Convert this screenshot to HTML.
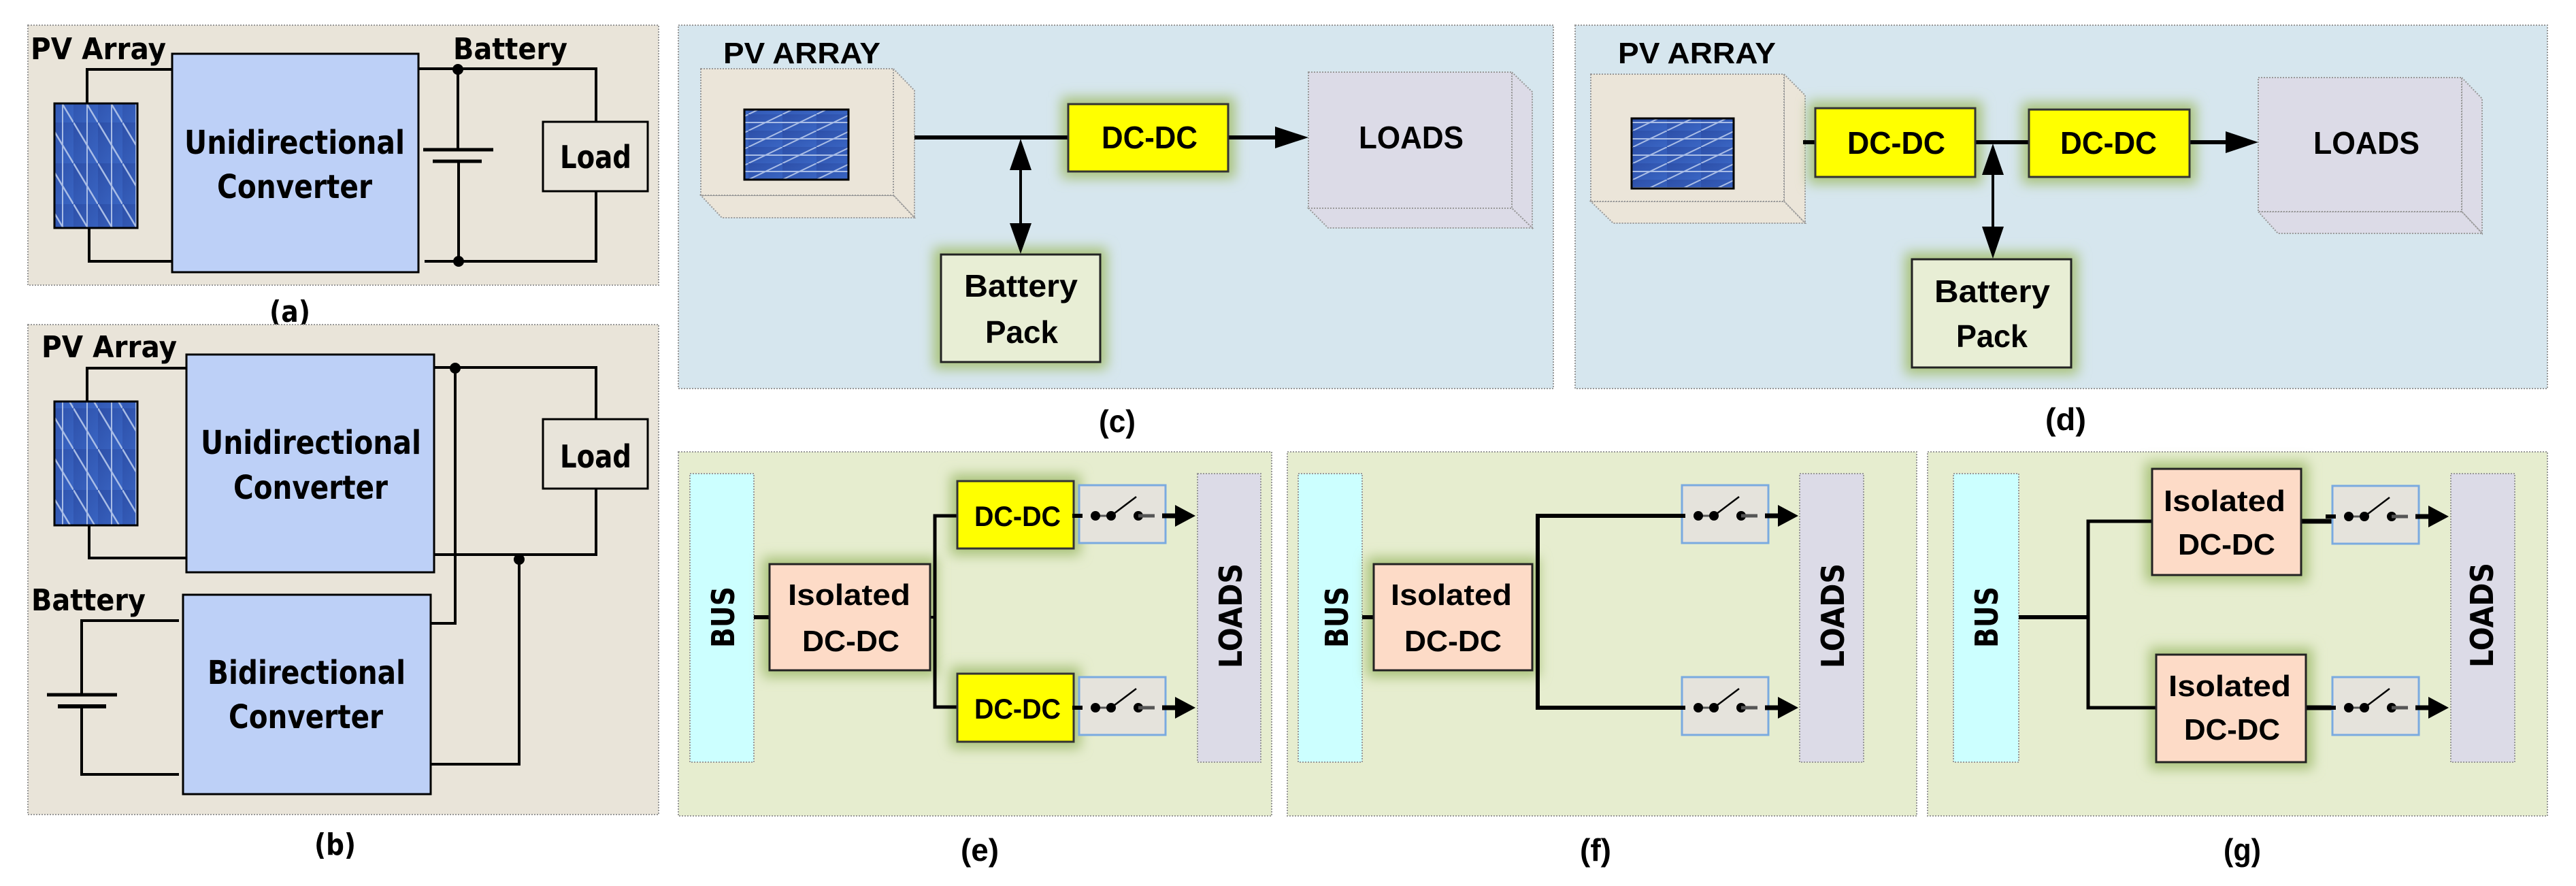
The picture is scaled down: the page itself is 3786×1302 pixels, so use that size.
<!DOCTYPE html>
<html><head><meta charset="utf-8"><style>
html,body{margin:0;padding:0;background:#fff;}
svg{display:block;}
.sb{font-family:"DejaVu Sans","Liberation Sans",sans-serif;font-weight:bold;fill:#000;}
.cn{font-family:"Liberation Sans",sans-serif;font-weight:bold;fill:#000;}
</style></head><body>
<svg width="3786" height="1302" viewBox="0 0 3786 1302" xmlns="http://www.w3.org/2000/svg">
<defs>
<filter id="glow" x="-30%" y="-30%" width="160%" height="160%"><feGaussianBlur stdDeviation="9"/></filter>
<linearGradient id="pvg" x1="0" y1="0" x2="1" y2="1"><stop offset="0" stop-color="#2d4fa8"/><stop offset="1" stop-color="#3a66c4"/></linearGradient>
<pattern id="pvv" width="36" height="60" patternUnits="userSpaceOnUse"><rect width="36" height="60" fill="url(#pvg)"/><line x1="0" y1="0" x2="36" y2="60" stroke="#a9bde6" stroke-width="2.5"/><line x1="20" y1="0" x2="20" y2="60" stroke="#a9bde6" stroke-width="2"/></pattern>
<pattern id="pvh" width="50" height="24" patternUnits="userSpaceOnUse"><rect width="50" height="24" fill="url(#pvg)"/><line x1="0" y1="24" x2="50" y2="0" stroke="#a9bde6" stroke-width="2"/><line x1="0" y1="12" x2="50" y2="12" stroke="#a9bde6" stroke-width="2"/></pattern>
<g id="sw">
<rect x="0" y="-45" width="127" height="85" fill="#e5e3dc" stroke="#7aaae0" stroke-width="3"/>
<line x1="-10" y1="0" x2="5" y2="0" stroke="#000" stroke-width="6"/>
<line x1="24" y1="0" x2="47" y2="0" stroke="#555" stroke-width="3"/>
<circle cx="24" cy="0" r="7"/><circle cx="47" cy="0" r="7"/>
<line x1="47" y1="0" x2="84" y2="-28" stroke="#000" stroke-width="2.5"/>
<circle cx="87" cy="0" r="7"/>
<line x1="87" y1="0" x2="111" y2="0" stroke="#555" stroke-width="5"/>
<line x1="122" y1="0" x2="145" y2="0" stroke="#000" stroke-width="7"/>
<polygon points="141,-16 171,0 141,16" fill="#000"/>
</g>
</defs>

<!-- ===== Panel (a) ===== -->
<rect x="41" y="37" width="927" height="382" fill="#e9e4d9" stroke="#999" stroke-width="2" stroke-dasharray="2 2"/>
<text class="sb" x="45" y="87" font-size="44" textLength="199" lengthAdjust="spacingAndGlyphs">PV Array</text>
<text class="sb" x="666" y="87" font-size="44" textLength="168" lengthAdjust="spacingAndGlyphs">Battery</text>
<g fill="none" stroke="#000" stroke-width="4">
<polyline points="128,152 128,102 253,102"/>
<polyline points="131,335 131,384 253,384"/>
<polyline points="615,101 876,101 876,179"/>
<polyline points="624,384 876,384 876,281"/>
<line x1="673" y1="101" x2="673" y2="220"/>
<line x1="674" y1="237" x2="674" y2="384"/>
<line x1="622" y1="220" x2="725" y2="220" stroke-width="5"/>
<line x1="636" y1="237" x2="708" y2="237" stroke-width="5"/>
</g>
<circle cx="673" cy="102" r="8"/><circle cx="674" cy="384" r="8"/>
<rect x="80" y="152" width="122" height="183" fill="url(#pvv)" stroke="#000" stroke-width="3"/>
<rect x="253" y="79" width="362" height="321" fill="#bdd0f7" stroke="#000" stroke-width="3"/>
<text class="sb" x="271" y="226" font-size="48" textLength="324" lengthAdjust="spacingAndGlyphs">Unidirectional</text>
<text class="sb" x="319" y="291" font-size="48" textLength="228" lengthAdjust="spacingAndGlyphs">Converter</text>
<rect x="798" y="179" width="154" height="102" fill="#e8e4da" stroke="#000" stroke-width="3"/>
<text class="sb" x="823" y="247" font-size="46" textLength="105" lengthAdjust="spacingAndGlyphs">Load</text>
<text class="sb" x="396" y="473" font-size="44" textLength="60" lengthAdjust="spacingAndGlyphs">(a)</text>

<!-- ===== Panel (b) ===== -->
<rect x="41" y="477" width="927" height="720" fill="#e9e4d9" stroke="#999" stroke-width="2" stroke-dasharray="2 2"/>
<text class="sb" x="61" y="525" font-size="44" textLength="199" lengthAdjust="spacingAndGlyphs">PV Array</text>
<text class="sb" x="46" y="897" font-size="44" textLength="168" lengthAdjust="spacingAndGlyphs">Battery</text>
<g fill="none" stroke="#000" stroke-width="4">
<polyline points="128,590 128,541 274,541"/>
<polyline points="131,772 131,820 274,820"/>
<polyline points="638,540 876,540 876,616"/>
<polyline points="669,540 669,916 631,916"/>
<polyline points="876,718 876,815 638,815"/>
<polyline points="763,822 763,1123 628,1123"/>
<polyline points="263,912 120,912 120,1021"/>
<polyline points="120,1038 120,1138 263,1138"/>
<line x1="69" y1="1021" x2="172" y2="1021" stroke-width="5"/>
<line x1="85" y1="1038" x2="156" y2="1038" stroke-width="6"/>
</g>
<circle cx="669" cy="541" r="8"/><circle cx="763" cy="822" r="8"/>
<rect x="80" y="590" width="122" height="182" fill="url(#pvv)" stroke="#000" stroke-width="3"/>
<rect x="274" y="521" width="364" height="320" fill="#bdd0f7" stroke="#000" stroke-width="3"/>
<text class="sb" x="295" y="667" font-size="48" textLength="324" lengthAdjust="spacingAndGlyphs">Unidirectional</text>
<text class="sb" x="343" y="733" font-size="48" textLength="227" lengthAdjust="spacingAndGlyphs">Converter</text>
<rect x="269" y="874" width="364" height="293" fill="#bdd0f7" stroke="#000" stroke-width="3"/>
<text class="sb" x="305" y="1005" font-size="48" textLength="291" lengthAdjust="spacingAndGlyphs">Bidirectional</text>
<text class="sb" x="336" y="1070" font-size="48" textLength="227" lengthAdjust="spacingAndGlyphs">Converter</text>
<rect x="798" y="616" width="154" height="102" fill="#e8e4da" stroke="#000" stroke-width="3"/>
<text class="sb" x="823" y="687" font-size="46" textLength="105" lengthAdjust="spacingAndGlyphs">Load</text>
<text class="sb" x="462" y="1256" font-size="44" textLength="61" lengthAdjust="spacingAndGlyphs">(b)</text>

<!-- ===== Panel (c) ===== -->
<rect x="997" y="37" width="1286" height="534" fill="#d6e6ee" stroke="#999" stroke-width="2" stroke-dasharray="2 2"/>
<text class="cn" x="1063" y="93" font-size="44" textLength="231" lengthAdjust="spacingAndGlyphs">PV ARRAY</text>
<g stroke="#999" stroke-width="2" stroke-dasharray="2 2" fill="#ebe5d9">
<polygon points="1313,101 1344,133 1344,320 1313,287"/>
<polygon points="1030,287 1313,287 1344,320 1061,320"/>
<rect x="1030" y="101" width="283" height="186"/>
</g>
<rect x="1094" y="161" width="153" height="103" fill="url(#pvh)" stroke="#000" stroke-width="3"/>
<g stroke="#999" stroke-width="2" stroke-dasharray="2 2" fill="#dcdbe7">
<polygon points="2222,106 2252,135 2252,335 2222,306"/>
<polygon points="1923,306 2222,306 2252,335 1952,335"/>
<rect x="1923" y="106" width="299" height="200"/>
</g>
<text class="cn" x="1997" y="218" font-size="46" textLength="154" lengthAdjust="spacingAndGlyphs">LOADS</text>
<rect x="1560" y="143" width="255" height="119" fill="#a9c27a" filter="url(#glow)"/>
<rect x="1372" y="364" width="255" height="178" fill="#a9c27a" filter="url(#glow)"/>
<line x1="1344" y1="202" x2="1570" y2="202" stroke="#000" stroke-width="6"/>
<line x1="1805" y1="202" x2="1880" y2="202" stroke="#000" stroke-width="6"/>
<polygon points="1874,186 1923,202 1874,218"/>
<line x1="1500" y1="230" x2="1500" y2="345" stroke="#000" stroke-width="4"/>
<polygon points="1500,204 1484,250 1516,250"/>
<polygon points="1500,373 1484,328 1516,328"/>
<rect x="1570" y="153" width="235" height="99" fill="#ffff00" stroke="#333" stroke-width="3"/>
<text class="cn" x="1619" y="218" font-size="46" textLength="141" lengthAdjust="spacingAndGlyphs">DC-DC</text>
<rect x="1383" y="374" width="234" height="158" fill="#e8eed5" stroke="#222" stroke-width="3"/>
<text class="cn" x="1417" y="436" font-size="46" textLength="167" lengthAdjust="spacingAndGlyphs">Battery</text>
<text class="cn" x="1448" y="504" font-size="46" textLength="107" lengthAdjust="spacingAndGlyphs">Pack</text>
<text class="cn" x="1615" y="635" font-size="46" textLength="54" lengthAdjust="spacingAndGlyphs">(c)</text>

<!-- ===== Panel (d) ===== -->
<rect x="2315" y="37" width="1429" height="534" fill="#d6e6ee" stroke="#999" stroke-width="2" stroke-dasharray="2 2"/>
<text class="cn" x="2378" y="93" font-size="44" textLength="232" lengthAdjust="spacingAndGlyphs">PV ARRAY</text>
<g stroke="#999" stroke-width="2" stroke-dasharray="2 2" fill="#ebe5d9">
<polygon points="2622,109 2653,140 2653,328 2622,296"/>
<polygon points="2338,296 2622,296 2653,328 2371,328"/>
<rect x="2338" y="109" width="284" height="187"/>
</g>
<rect x="2398" y="174" width="150" height="103" fill="url(#pvh)" stroke="#000" stroke-width="3"/>
<g stroke="#999" stroke-width="2" stroke-dasharray="2 2" fill="#dcdbe7">
<polygon points="3618,114 3648,145 3648,343 3618,311"/>
<polygon points="3319,311 3618,311 3648,343 3348,343"/>
<rect x="3319" y="114" width="299" height="197"/>
</g>
<text class="cn" x="3400" y="226" font-size="46" textLength="156" lengthAdjust="spacingAndGlyphs">LOADS</text>
<rect x="2658" y="149" width="255" height="121" fill="#a9c27a" filter="url(#glow)"/>
<rect x="2972" y="151" width="256" height="119" fill="#a9c27a" filter="url(#glow)"/>
<rect x="2800" y="371" width="254" height="179" fill="#a9c27a" filter="url(#glow)"/>
<line x1="2650" y1="209" x2="2668" y2="209" stroke="#000" stroke-width="6"/>
<line x1="2903" y1="209" x2="2982" y2="209" stroke="#000" stroke-width="6"/>
<line x1="3218" y1="209" x2="3280" y2="209" stroke="#000" stroke-width="6"/>
<polygon points="3271,193 3319,209 3271,225"/>
<line x1="2929" y1="235" x2="2929" y2="350" stroke="#000" stroke-width="4"/>
<polygon points="2929,211 2913,257 2945,257"/>
<polygon points="2929,380 2913,333 2945,333"/>
<rect x="2668" y="159" width="235" height="101" fill="#ffff00" stroke="#333" stroke-width="3"/>
<text class="cn" x="2715" y="226" font-size="46" textLength="144" lengthAdjust="spacingAndGlyphs">DC-DC</text>
<rect x="2982" y="161" width="236" height="99" fill="#ffff00" stroke="#333" stroke-width="3"/>
<text class="cn" x="3028" y="226" font-size="46" textLength="142" lengthAdjust="spacingAndGlyphs">DC-DC</text>
<rect x="2810" y="381" width="234" height="159" fill="#e8eed5" stroke="#222" stroke-width="3"/>
<text class="cn" x="2843" y="444" font-size="46" textLength="170" lengthAdjust="spacingAndGlyphs">Battery</text>
<text class="cn" x="2875" y="510" font-size="46" textLength="105" lengthAdjust="spacingAndGlyphs">Pack</text>
<text class="cn" x="3006" y="632" font-size="46" textLength="60" lengthAdjust="spacingAndGlyphs">(d)</text>

<!-- ===== Panel (e) ===== -->
<rect x="997" y="664" width="872" height="535" fill="#e6edcf" stroke="#999" stroke-width="2" stroke-dasharray="2 2"/>
<rect x="1014" y="696" width="94" height="424" fill="#ccffff" stroke="#999" stroke-width="2" stroke-dasharray="2 2"/>
<text class="sb" transform="translate(1079,907) rotate(-90)" text-anchor="middle" font-size="46" textLength="90" lengthAdjust="spacingAndGlyphs">BUS</text>
<rect x="1760" y="696" width="93" height="424" fill="#dcdbe7" stroke="#999" stroke-width="2" stroke-dasharray="2 2"/>
<text class="sb" transform="translate(1825,905) rotate(-90)" text-anchor="middle" font-size="46" textLength="154" lengthAdjust="spacingAndGlyphs">LOADS</text>
<rect x="1121" y="819" width="256" height="176" fill="#a9c27a" filter="url(#glow)"/>
<rect x="1397" y="697" width="191" height="119" fill="#a9c27a" filter="url(#glow)"/>
<rect x="1397" y="980" width="191" height="120" fill="#a9c27a" filter="url(#glow)"/>
<line x1="1108" y1="907" x2="1131" y2="907" stroke="#000" stroke-width="6"/>
<polyline points="1407,758 1374,758 1374,1039 1407,1039" fill="none" stroke="#000" stroke-width="5"/>
<line x1="1367" y1="907" x2="1374" y2="907" stroke="#000" stroke-width="4"/>
<rect x="1131" y="829" width="236" height="156" fill="#fddbc7" stroke="#222" stroke-width="3"/>
<text class="cn" x="1158" y="889" font-size="44" textLength="180" lengthAdjust="spacingAndGlyphs">Isolated</text>
<text class="cn" x="1179" y="957" font-size="44" textLength="143" lengthAdjust="spacingAndGlyphs">DC-DC</text>
<rect x="1407" y="707" width="171" height="99" fill="#ffff00" stroke="#333" stroke-width="3"/>
<text class="cn" x="1432" y="773" font-size="42" textLength="127" lengthAdjust="spacingAndGlyphs">DC-DC</text>
<rect x="1407" y="990" width="171" height="100" fill="#ffff00" stroke="#333" stroke-width="3"/>
<text class="cn" x="1432" y="1056" font-size="42" textLength="127" lengthAdjust="spacingAndGlyphs">DC-DC</text>
<use href="#sw" x="1586" y="758"/>
<use href="#sw" x="1586" y="1040"/>
<text class="cn" x="1412" y="1265" font-size="46" textLength="56" lengthAdjust="spacingAndGlyphs">(e)</text>

<!-- ===== Panel (f) ===== -->
<rect x="1892" y="664" width="925" height="535" fill="#e6edcf" stroke="#999" stroke-width="2" stroke-dasharray="2 2"/>
<rect x="1908" y="696" width="94" height="424" fill="#ccffff" stroke="#999" stroke-width="2" stroke-dasharray="2 2"/>
<text class="sb" transform="translate(1981,907) rotate(-90)" text-anchor="middle" font-size="46" textLength="90" lengthAdjust="spacingAndGlyphs">BUS</text>
<rect x="2645" y="696" width="94" height="424" fill="#dcdbe7" stroke="#999" stroke-width="2" stroke-dasharray="2 2"/>
<text class="sb" transform="translate(2710,905) rotate(-90)" text-anchor="middle" font-size="46" textLength="154" lengthAdjust="spacingAndGlyphs">LOADS</text>
<rect x="2009" y="819" width="253" height="176" fill="#a9c27a" filter="url(#glow)"/>
<line x1="2002" y1="907" x2="2019" y2="907" stroke="#000" stroke-width="6"/>
<polyline points="2472,758 2260,758 2260,1040 2472,1040" fill="none" stroke="#000" stroke-width="6"/>
<rect x="2019" y="829" width="233" height="156" fill="#fddbc7" stroke="#222" stroke-width="3"/>
<text class="cn" x="2044" y="889" font-size="44" textLength="178" lengthAdjust="spacingAndGlyphs">Isolated</text>
<text class="cn" x="2064" y="957" font-size="44" textLength="143" lengthAdjust="spacingAndGlyphs">DC-DC</text>
<use href="#sw" x="2472" y="758"/>
<use href="#sw" x="2472" y="1040"/>
<text class="cn" x="2322" y="1265" font-size="46" textLength="46" lengthAdjust="spacingAndGlyphs">(f)</text>

<!-- ===== Panel (g) ===== -->
<rect x="2833" y="664" width="911" height="535" fill="#e6edcf" stroke="#999" stroke-width="2" stroke-dasharray="2 2"/>
<rect x="2871" y="696" width="96" height="424" fill="#ccffff" stroke="#999" stroke-width="2" stroke-dasharray="2 2"/>
<text class="sb" transform="translate(2936,907) rotate(-90)" text-anchor="middle" font-size="46" textLength="90" lengthAdjust="spacingAndGlyphs">BUS</text>
<rect x="3602" y="696" width="94" height="424" fill="#dcdbe7" stroke="#999" stroke-width="2" stroke-dasharray="2 2"/>
<text class="sb" transform="translate(3664,904) rotate(-90)" text-anchor="middle" font-size="46" textLength="154" lengthAdjust="spacingAndGlyphs">LOADS</text>
<rect x="3153" y="679" width="239" height="176" fill="#a9c27a" filter="url(#glow)"/>
<rect x="3159" y="952" width="240" height="178" fill="#a9c27a" filter="url(#glow)"/>
<line x1="2967" y1="907" x2="3069" y2="907" stroke="#000" stroke-width="6"/>
<polyline points="3163,766 3069,766 3069,1040 3169,1040" fill="none" stroke="#000" stroke-width="5"/>
<line x1="3382" y1="766" x2="3428" y2="766" stroke="#000" stroke-width="7"/>
<line x1="3389" y1="1040" x2="3428" y2="1040" stroke="#000" stroke-width="7"/>
<rect x="3163" y="689" width="219" height="156" fill="#fddbc7" stroke="#222" stroke-width="3"/>
<text class="cn" x="3180" y="751" font-size="44" textLength="179" lengthAdjust="spacingAndGlyphs">Isolated</text>
<text class="cn" x="3201" y="815" font-size="44" textLength="143" lengthAdjust="spacingAndGlyphs">DC-DC</text>
<rect x="3169" y="962" width="220" height="158" fill="#fddbc7" stroke="#222" stroke-width="3"/>
<text class="cn" x="3187" y="1023" font-size="44" textLength="180" lengthAdjust="spacingAndGlyphs">Isolated</text>
<text class="cn" x="3210" y="1087" font-size="44" textLength="141" lengthAdjust="spacingAndGlyphs">DC-DC</text>
<use href="#sw" x="3428" y="759"/>
<use href="#sw" x="3428" y="1040"/>
<text class="cn" x="3268" y="1265" font-size="46" textLength="55" lengthAdjust="spacingAndGlyphs">(g)</text>
</svg>
</body></html>
